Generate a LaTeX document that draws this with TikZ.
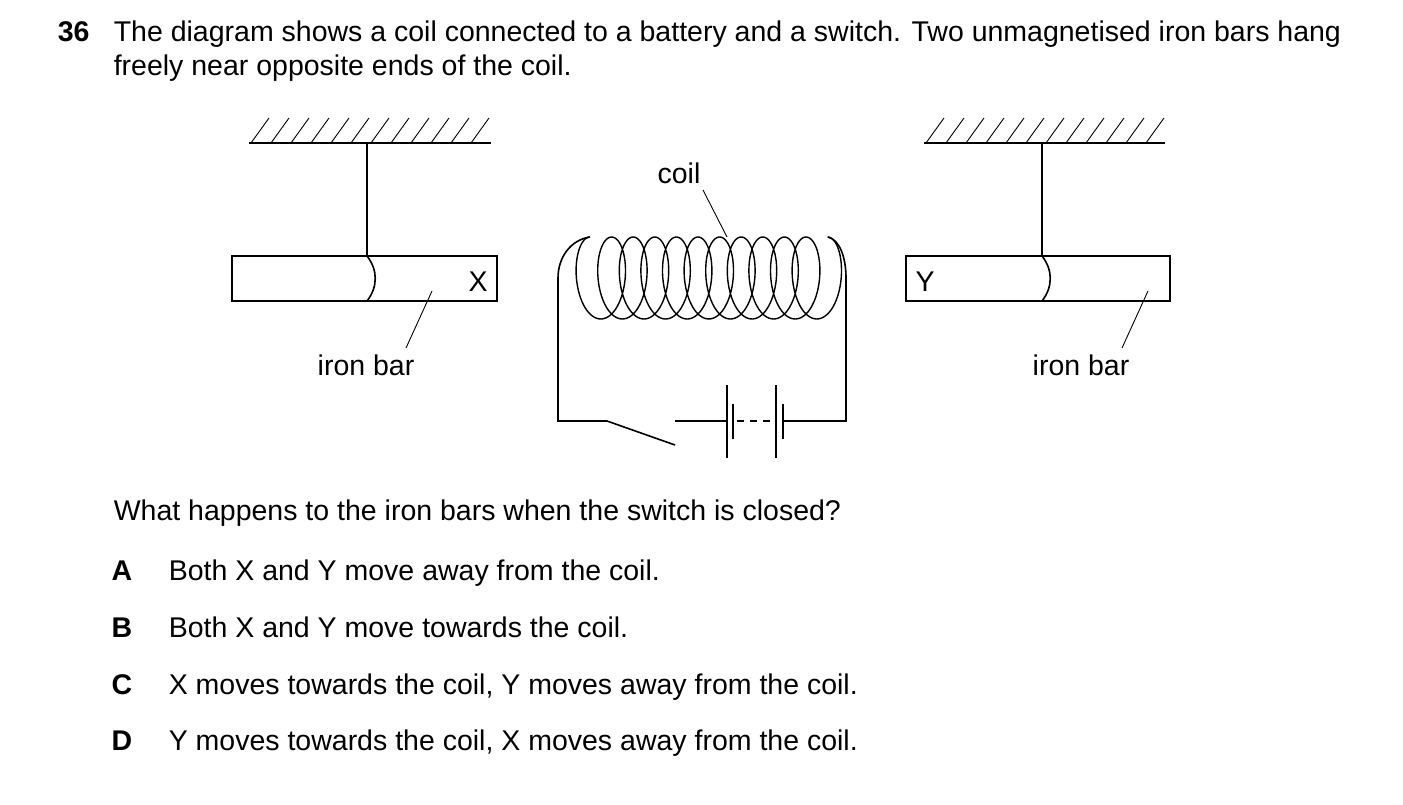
\documentclass[tikz,border=0pt]{standalone}
\usepackage{fontspec}
\setmainfont{Liberation Sans}
\begin{document}
\begin{tikzpicture}[x=1pt,y=-1pt,line width=1.6pt,
  txt/.style={font=\fontsize{28.5}{34}\selectfont, inner sep=0pt},
  lead/.style={line width=0.9pt},
  hat/.style={line width=0.9pt}]
\useasboundingbox (0,0) rectangle (1403,805);
\node[txt,anchor=base west,font=\fontsize{28.5}{34}\selectfont\bfseries] (num) at (57,42) {36};
\node[txt,anchor=base west] (q1) at (113,42) {The diagram shows a coil connected to a battery and a switch. Two unmagnetised iron bars hang};
\node[txt,anchor=base west] (q2) at (113,76) {freely near opposite ends of the coil.};
% left support
\draw (249,143) coordinate (lc1) -- (491,143) coordinate (lc2);
\foreach \i in {0,...,11} \draw[hat] ({251+20*\i},143) -- ({269+20*\i},118);
\draw (232,256) rectangle (497,301);
\draw (367,143) -- (367,256);
\draw (367,256) .. controls (378,270) and (378,287) .. (367,301);
\node[txt,anchor=base] (X) at (478,291) {X};
\draw[lead] (432,291) -- (406,348);
\node[txt,anchor=base] (ib1) at (366,375) {iron bar};
% right support
\draw (924,143) -- (1165,143);
\foreach \i in {0,...,11} \draw[hat] ({926+20*\i},143) -- ({944+20*\i},118);
\draw (906,256) rectangle (1170,301);
\draw (1042,143) -- (1042,256);
\draw (1042,256) .. controls (1053,270) and (1053,287) .. (1042,301);
\node[txt,anchor=base] (Y) at (925,291) {Y};
\draw[lead] (1148,291) -- (1122,348);
\node[txt,anchor=base] (ib2) at (1081,375) {iron bar};
% coil
\draw[line width=1.4pt] plot[domain=0:3960,samples=700,smooth] ({590+\x/360*21.6-19*sin(\x)},{278-41*cos(\x)});
\draw (590,237) .. controls (570,240) and (558,258) .. (558,278) -- (558,421) -- (607,421) -- (675,445);
\draw (828,237) .. controls (840,240) and (846,258) .. (846,278) -- (846,421) -- (783,421);
\node[txt,anchor=base] (coil) at (679,184) {coil};
\draw[lead] (703,190) -- (727,237);
% battery
\draw (675,421) -- (727,421);
\draw (727,385) -- (727,458);
\draw (733,404) -- (733,439);
\draw[dashed,dash pattern=on 7pt off 6pt] (737,421) -- (776,421);
\draw (776,385) -- (776,458);
\draw (783,404) -- (783,439);
% question
\node[txt,anchor=base west] (q3) at (113,520) {What happens to the iron bars when the switch is closed?};
\foreach \l/\t/\y in {A/Both X and Y move away from the coil./580,B/Both X and Y move towards the coil./637,C/{X moves towards the coil, Y moves away from the coil.}/694,D/{Y moves towards the coil, X moves away from the coil.}/750}{
  \node[txt,anchor=base,font=\fontsize{28.5}{34}\selectfont\bfseries] at (122,\y) {\l};
  \node[txt,anchor=base west] at (168,\y) {\t};
}
\end{tikzpicture}
\end{document}
